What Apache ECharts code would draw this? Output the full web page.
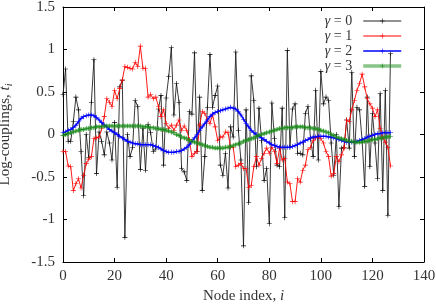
<!DOCTYPE html>
<html>
<head>
<meta charset="utf-8">
<script src="https://cdn.jsdelivr.net/npm/echarts@6/dist/echarts.min.js"></script>
<style>html,body{margin:0;padding:0;background:#fff}#c{width:436px;height:304px}</style>
</head>
<body>
<div id="c"></div>
<script>
const xTicks = [0, 20, 40, 60, 80, 100, 120, 140];
const yTicks = [-1.5, -1, -0.5, 0, 0.5, 1, 1.5];
const seriesNames = ['0', '1', '2', '3'];

const gamma0 = [0.47,0.77,-0.08,-0.08,0.15,0.44,0.29,-0.2,-0.72,0.0,-0.27,0.38,0.88,-0.46,0.03,-0.08,-0.24,0.03,-0.1,-0.3,
0.14,-0.62,0.56,0.64,-1.21,0.0,-0.26,-0.15,0.40,0.33,-0.41,0.07,-0.42,0.12,0.02,-0.2,-0.17,0.3,0.46,-0.36,
0.43,0.68,1.02,0.23,0.6,0.38,-0.4,-0.44,-0.54,0.27,0.24,0.96,-0.2,0.44,-0.66,-0.26,0.32,0.94,0.32,0.46,
0.57,-0.36,-0.48,-0.22,-0.63,0.09,-0.03,0.97,0.05,-0.3,-1.31,0.29,-0.8,0.69,0.40,-0.38,0.31,-0.07,-0.54,-0.4,
-1.05,0.37,-0.05,-0.36,-0.38,0.31,-0.98,0.99,-0.15,0.3,0.36,-0.22,-0.22,-0.24,0.25,0.33,-0.05,-0.26,0.52,-0.3,
0.74,0.36,0.44,0.4,-0.1,-0.48,0.0,-0.85,-0.16,-0.15,0.17,-0.16,0.73,-0.26,0.32,0.29,-0.07,-0.61,0.44,-0.38,
0.25,-0.1,-0.52,0.48,-0.66,0.52,-0.95,0.95];

const gamma1 = [-0.2,-0.2,-0.37,-0.38,-0.66,-0.58,-0.52,-0.63,-0.48,-0.34,-0.29,-0.26,-0.05,-0.04,-0.03,0.07,0.21,0.42,0.38,0.33,
0.52,0.42,0.54,0.64,0.8,0.79,0.78,0.77,0.85,0.8,1.04,0.78,0.78,0.44,0.47,0.42,0.44,0.33,0.21,0.29,
0.13,0.07,0.11,0.05,0.11,0.17,0.05,0.1,0.05,-0.06,-0.26,-0.22,-0.2,0.11,0.27,0.25,0.17,0.13,0.23,0.09,
-0.07,-0.03,-0.03,0.03,0.02,-0.15,-0.15,-0.38,-0.36,-0.34,-0.4,-0.4,-0.62,-0.6,-0.38,-0.26,-0.36,-0.28,-0.22,-0.16,
-0.22,-0.15,-0.2,-0.34,-0.16,-0.3,-0.28,-0.56,-0.58,-0.79,-0.79,-0.52,-0.56,-0.42,-0.36,-0.18,-0.15,-0.07,-0.04,-0.03,
-0.05,-0.1,-0.2,-0.26,-0.49,-0.46,-0.26,-0.32,-0.24,-0.16,0.17,0.15,0.29,0.4,0.52,0.6,0.71,0.56,0.42,0.36,
0.31,0.21,0.29,0.07,-0.03,-0.09,-0.15,-0.37];

const gamma2 = [0.02,0.03,0.05,0.06,0.08,0.11,0.15,0.19,0.21,0.22,0.23,0.23,0.22,0.2,0.17,0.14,0.11,0.09,0.06,0.04,
0.02,0.0,-0.02,-0.04,-0.06,-0.08,-0.09,-0.1,-0.11,-0.11,-0.12,-0.12,-0.12,-0.12,-0.12,-0.13,-0.14,-0.15,-0.17,-0.19,
-0.2,-0.21,-0.21,-0.21,-0.2,-0.2,-0.19,-0.17,-0.15,-0.12,-0.08,-0.04,0.0,0.05,0.09,0.13,0.17,0.21,0.24,0.26,
0.27,0.28,0.29,0.3,0.31,0.32,0.31,0.3,0.27,0.23,0.18,0.13,0.09,0.05,0.02,0.0,-0.02,-0.04,-0.06,-0.08,
-0.1,-0.12,-0.13,-0.14,-0.15,-0.15,-0.15,-0.15,-0.15,-0.14,-0.13,-0.12,-0.1,-0.09,-0.07,-0.06,-0.04,-0.03,-0.03,-0.02,
-0.02,-0.02,-0.02,-0.03,-0.03,-0.04,-0.05,-0.06,-0.07,-0.08,-0.09,-0.09,-0.09,-0.09,-0.08,-0.07,-0.06,-0.05,-0.03,-0.02,
-0.01,0.0,0.01,0.01,0.02,0.02,0.02,0.02];

const gamma3 = [-0.01,0.0,0.01,0.02,0.03,0.04,0.05,0.06,0.06,0.07,0.07,0.08,0.08,0.09,0.09,0.09,0.1,0.1,0.1,0.1,
0.1,0.1,0.1,0.1,0.1,0.1,0.1,0.1,0.1,0.1,0.1,0.09,0.09,0.09,0.08,0.08,0.07,0.07,0.06,0.06,
0.05,0.04,0.03,0.02,0.0,-0.01,-0.03,-0.04,-0.05,-0.07,-0.08,-0.09,-0.1,-0.11,-0.12,-0.13,-0.14,-0.15,-0.15,-0.16,
-0.16,-0.16,-0.16,-0.15,-0.15,-0.14,-0.13,-0.12,-0.11,-0.1,-0.08,-0.07,-0.06,-0.05,-0.04,-0.02,-0.01,0.0,0.01,0.02,
0.03,0.04,0.05,0.06,0.07,0.07,0.08,0.08,0.08,0.08,0.09,0.09,0.09,0.09,0.08,0.08,0.08,0.07,0.07,0.06,
0.05,0.04,0.03,0.02,0.0,-0.01,-0.03,-0.04,-0.05,-0.06,-0.07,-0.08,-0.08,-0.09,-0.09,-0.09,-0.09,-0.08,-0.08,-0.07,
-0.06,-0.06,-0.05,-0.04,-0.04,-0.03,-0.03,-0.02];

const nodeIndex = gamma0.map((_, i) => i);
const pair = arr => arr.map((v, i) => [nodeIndex[i], v]);

const FONT = 'Liberation Serif';
const FS = 15;
const LFS = 14;
const TXT = '#333';
const PLUS = 'path://M-0.12,-1H0.12V-0.12H1V0.12H0.12V1H-0.12V0.12H-1V-0.12H-0.12Z';

const chart = echarts.init(document.getElementById('c'), null, {renderer: 'canvas'});

function axisCommon(extra) {
  return Object.assign({
    type: 'value',
    axisLine: {show: true, onZero: false, lineStyle: {color: '#000', width: 1}},
    axisTick: {show: true, inside: true, length: 4, lineStyle: {color: '#000', width: 1}},
    splitLine: {show: false},
    axisLabel: {color: TXT, fontFamily: FONT, fontSize: FS}
  }, extra);
}

const lineStyles = [
  {color: '#222', width: 0.9},
  {color: '#ff0000', width: 0.9},
  {color: '#0000ff', width: 1.5},
  {color: 'rgba(40,150,40,0.55)', width: 3.5}
];
const markColors = ['#000', '#ff0000', '#0000ff', '#118811'];
const values = [gamma0, gamma1, gamma2, gamma3];

const option = {
  animation: false,
  backgroundColor: '#fff',
  grid: {left: 63, right: 12, top: 7, bottom: 42, containLabel: false, outerBoundsMode: 'none'},
  xAxis: [
    axisCommon({min: xTicks[0], max: xTicks[xTicks.length - 1], interval: 20, position: 'bottom',
      axisLabel: {color: TXT, fontFamily: FONT, fontSize: FS, margin: 7},
      name: 'Node index, {it|i}', nameLocation: 'middle', nameGap: 24,
      nameTextStyle: {color: TXT, fontFamily: FONT, fontSize: FS,
        rich: {it: {fontStyle: 'italic', fontFamily: FONT, fontSize: FS, color: TXT}}}}),
    axisCommon({min: xTicks[0], max: xTicks[xTicks.length - 1], interval: 20, position: 'top',
      axisLabel: {show: false}})
  ],
  yAxis: [
    axisCommon({min: yTicks[0], max: yTicks[yTicks.length - 1], interval: 0.5, position: 'left',
      axisLabel: {color: TXT, fontFamily: FONT, fontSize: FS, margin: 8},
      name: 'Log-couplings, {it|t}{sub|i}', nameLocation: 'middle', nameGap: 49, nameRotate: 90,
      nameTextStyle: {color: TXT, fontFamily: FONT, fontSize: FS,
        rich: {it: {fontStyle: 'italic', fontFamily: FONT, fontSize: FS, color: TXT},
               sub: {fontStyle: 'italic', fontFamily: FONT, fontSize: 10, color: TXT, verticalAlign: 'bottom', padding: [7, 0, 0, 0]}}}}),
    axisCommon({min: yTicks[0], max: yTicks[yTicks.length - 1], interval: 0.5, position: 'right',
      axisLabel: {show: false}})
  ],
  legend: {
    orient: 'vertical', right: 28, top: 9, align: 'right',
    itemWidth: 38, itemHeight: 6, itemGap: 1,
    textStyle: {fontFamily: FONT, fontSize: LFS, color: TXT, lineHeight: 13, padding: [0, 6, 0, 0],
      rich: {g: {fontStyle: 'italic', fontFamily: FONT, fontSize: LFS, color: TXT, lineHeight: 13}}},
    formatter: name => '{g|γ} = ' + name,
    data: seriesNames.map((n, k) => ({name: n, lineStyle: {color: lineStyles[k].color, width: k === 3 ? 3.5 : (k === 2 ? 1.5 : 1)},
      itemStyle: {color: markColors[k]}}))
  },
  series: seriesNames.map((n, k) => ({
    name: n, type: 'line', data: pair(values[k]), symbol: PLUS, symbolSize: 5,
    showAllSymbol: true, lineStyle: lineStyles[k], itemStyle: {color: markColors[k]}, z: 2 + k
  }))
};
chart.setOption(option);
</script>
</body>
</html>
